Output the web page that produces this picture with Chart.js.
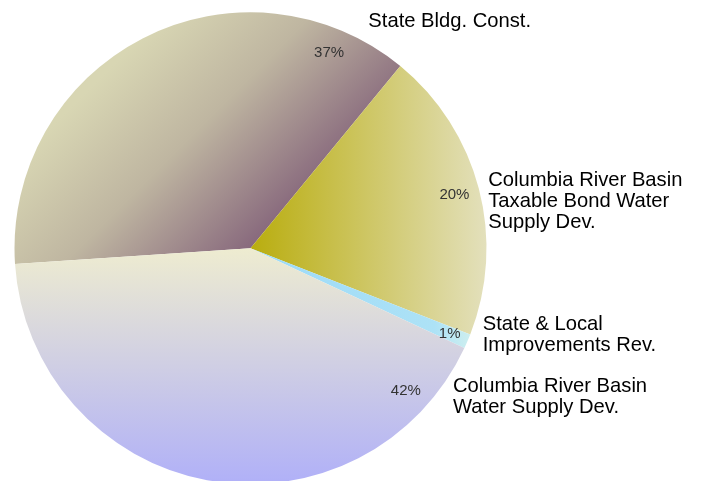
<!DOCTYPE html>
<html>
<head>
<meta charset="utf-8">
<script src="https://cdn.jsdelivr.net/npm/chart.js@4.4.1/dist/chart.umd.min.js"></script>
<style>
  html, body { margin: 0; padding: 0; background: #ffffff; overflow: hidden; }
  #wrap { width: 708px; height: 490px; }
</style>
</head>
<body>
<div id="wrap"><canvas id="pie" width="708" height="490"></canvas></div>
<script>
// Bond programs and their share of the total (percent)
const categories = [
  ['State Bldg. Const.'],
  ['Columbia River Basin', 'Taxable Bond Water', 'Supply Dev.'],
  ['State & Local', 'Improvements Rev.'],
  ['Columbia River Basin', 'Water Supply Dev.']
];
const shares = [37, 20, 1, 42];

// Gradient fills for each slice, expressed relative to the pie centre / radius
function sliceFill(context) {
  const chart = context.chart;
  const area = chart.chartArea;
  const i = context.dataIndex;
  const fallback = ['#b8ad9d', '#d0c870', '#bfe8f4', '#d6d4e2'][i];
  if (!area) return fallback;
  const g = chart.ctx;
  const cx = (area.left + area.right) / 2;
  const cy = (area.top + area.bottom) / 2;
  const R = Math.min(area.right - area.left, area.bottom - area.top) / 2;
  let grad;
  if (i === 0) {
    grad = g.createLinearGradient(cx - 0.68 * R, cy - 0.68 * R, cx + 0.02 * R, cy + 0.02 * R);
    grad.addColorStop(0, '#d8d6b3');
    grad.addColorStop(0.45, '#bfb6a1');
    grad.addColorStop(1, '#85657b');
  } else if (i === 1) {
    grad = g.createLinearGradient(cx, 0, cx + R, 0);
    grad.addColorStop(0, '#b9ad0e');
    grad.addColorStop(1, '#e3e0bc');
  } else if (i === 2) {
    grad = g.createLinearGradient(cx, 0, cx + R, 0);
    grad.addColorStop(0, '#9cdaf8');
    grad.addColorStop(0.78, '#ade2f6');
    grad.addColorStop(1, '#dcf4ec');
  } else {
    grad = g.createLinearGradient(0, cy, 0, cy + R);
    grad.addColorStop(0, '#eeecd0');
    grad.addColorStop(1, '#b0b0f8');
  }
  return grad;
}

// Percent labels inside the rim, program names to the right of the pie
const sliceLabels = {
  id: 'sliceLabels',
  afterDatasetsDraw(chart, args, opts) {
    const ctx = chart.ctx;
    const meta = chart.getDatasetMeta(0);
    const values = chart.data.datasets[0].data;
    const total = values.reduce((a, b) => a + b, 0);
    const deg = Math.PI / 180;
    meta.data.forEach((arc, i) => {
      const { x: cx, y: cy, startAngle, endAngle, outerRadius: R } = arc.getProps(['x', 'y', 'startAngle', 'endAngle', 'outerRadius'], true);
      // angles measured clockwise from 12 o'clock, in degrees
      const s = startAngle / deg + 90;
      const e = endAngle / deg + 90;
      let theta = (s + e) / 2;
      if (Math.sin(theta * deg) < 0) {
        const crossesTop = Math.floor(s / 360) !== Math.floor(e / 360);
        theta = crossesTop ? e - opts.inset : s + opts.inset;
      }
      const t = theta * deg;
      // narrow slices push their label a little closer to the rim
      const r = (e - s < 10 ? opts.pctRadius + 0.025 : opts.pctRadius) * R;
      const px = cx + r * Math.sin(t);
      const py = cy - r * Math.cos(t);

      ctx.save();
      ctx.fillStyle = '#333333';
      ctx.font = '15px "Liberation Sans", Arial, sans-serif';
      ctx.textAlign = 'center';
      ctx.textBaseline = 'middle';
      ctx.fillText(Math.round(values[i] / total * 100) + '%', px, py);

      const lines = chart.data.labels[i];
      const [dx, dy] = opts.nameOffsets[i];
      const lx = cx + R * Math.sin(t) + dx;
      const yc = py + dy;
      const fs = 20.2, lh = 20.8;
      ctx.fillStyle = '#000000';
      ctx.font = fs + 'px "Liberation Sans", Arial, sans-serif';
      ctx.textAlign = 'left';
      ctx.textBaseline = 'alphabetic';
      lines.forEach((line, k) => {
        const yy = yc + (k - (lines.length - 1) / 2) * lh + 0.358 * fs;
        ctx.fillText(line, lx, yy);
      });
      ctx.restore();
    });
  }
};

new Chart(document.getElementById('pie'), {
  type: 'pie',
  data: {
    labels: categories,
    datasets: [{
      data: shares,
      backgroundColor: sliceFill,
      borderWidth: 0,
      hoverOffset: 0,
      offset: 0
    }]
  },
  options: {
    responsive: false,
    animation: false,
    devicePixelRatio: 1,
    events: [],
    rotation: 266.2,
    layout: { padding: { left: 14.5, top: 12.3, right: 221.5, bottom: 5.7 } },
    plugins: {
      legend: { display: false },
      tooltip: { enabled: false },
      sliceLabels: {
        inset: 17.5,
        pctRadius: 0.893,
        nameOffsets: [[29.8, -33], [9.4, 4.5], [15.3, -0.3], [28.5, 4.9]]
      }
    }
  },
  plugins: [sliceLabels]
});
</script>
</body>
</html>
